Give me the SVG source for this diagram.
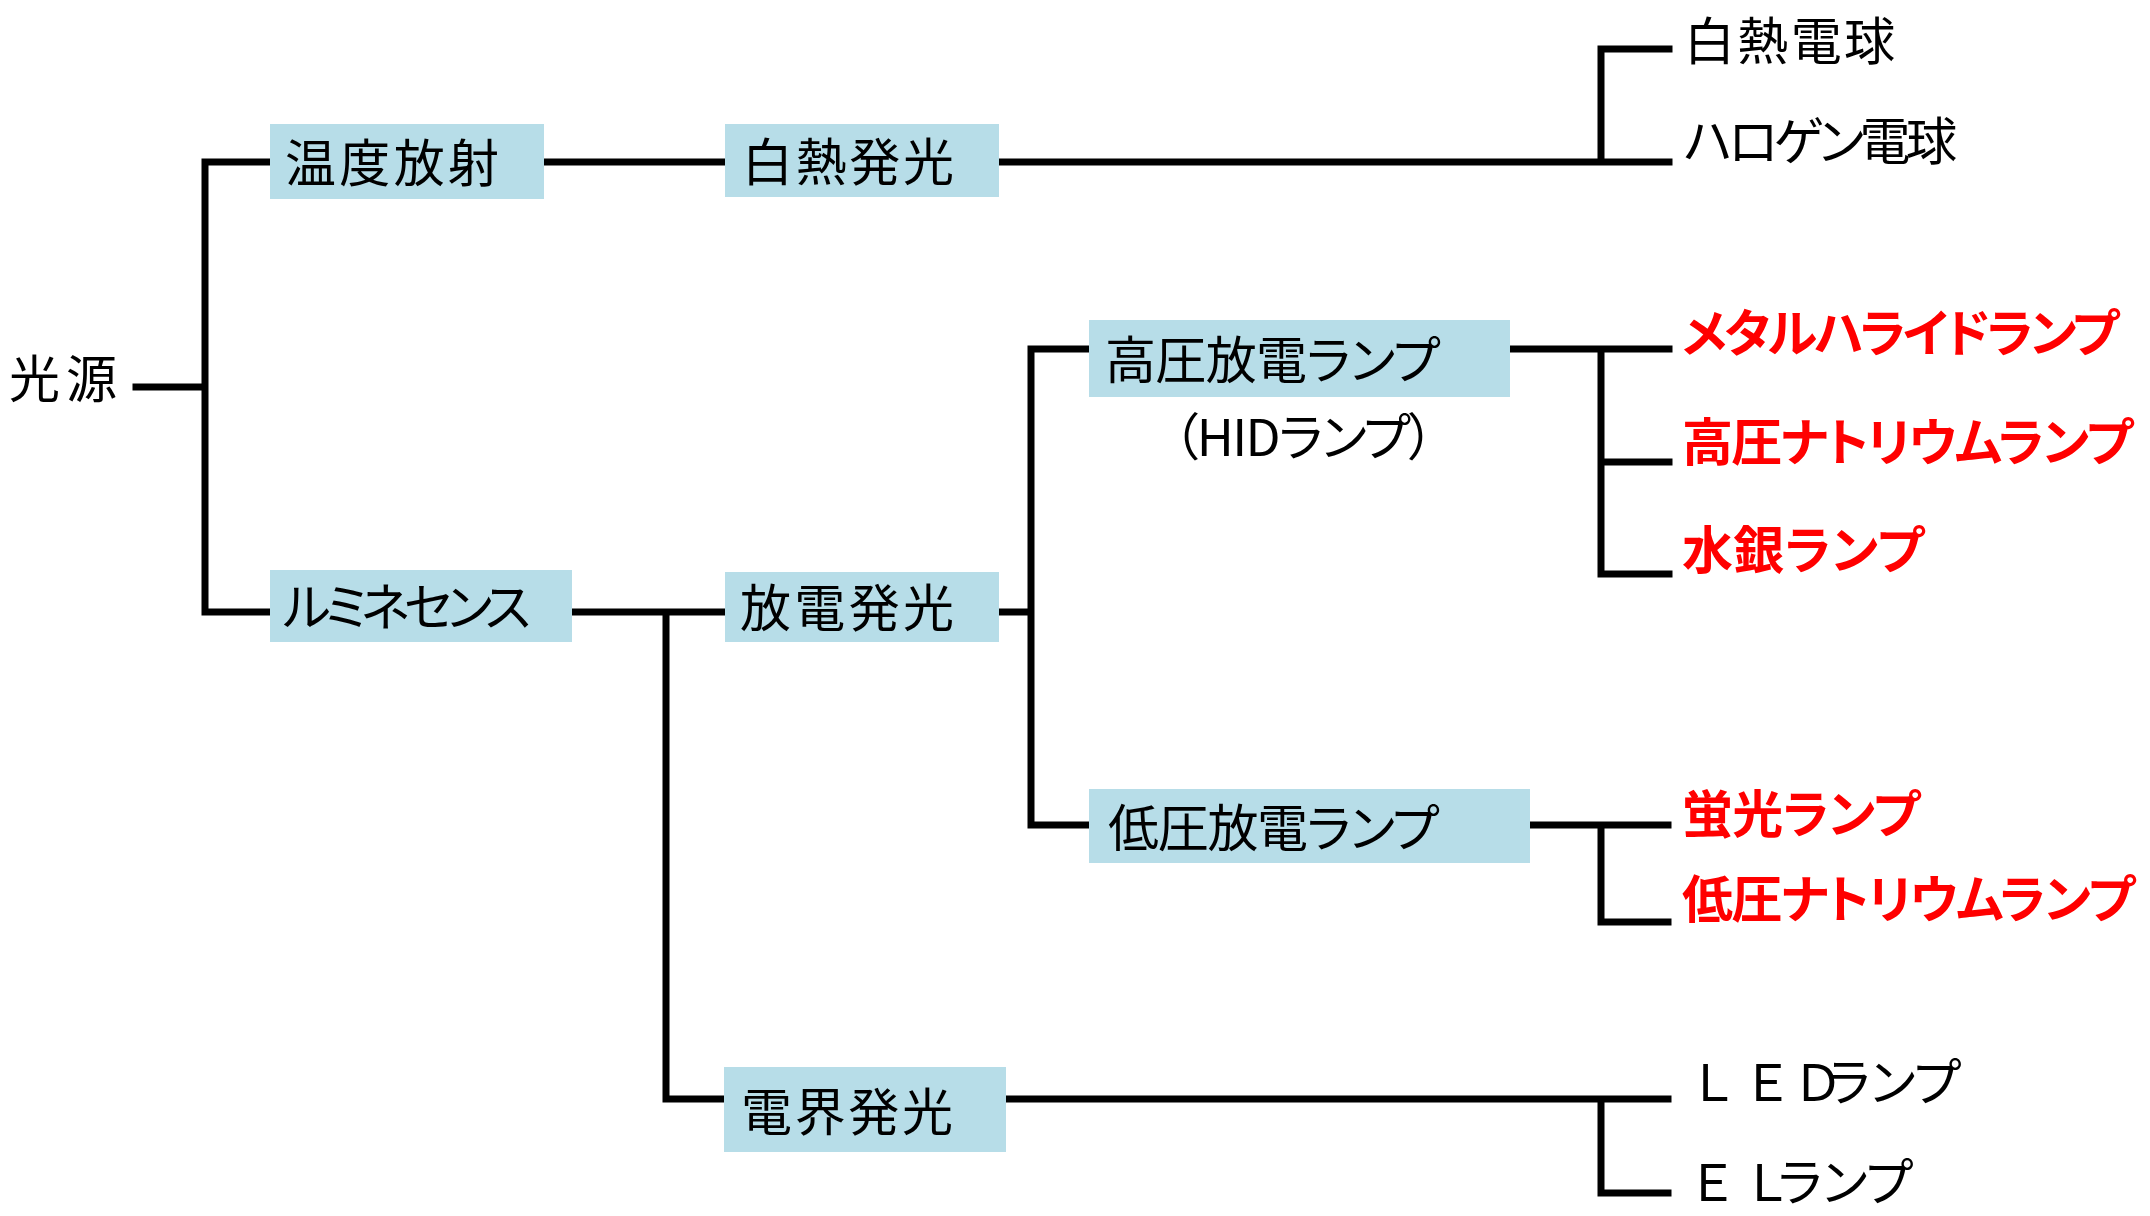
<svg xmlns="http://www.w3.org/2000/svg" width="2150" height="1216" viewBox="0 0 2150 1216">
<style>
text{font-family:"Noto Sans CJK JP","Noto Sans",sans-serif;font-size:51px;fill:#000;font-feature-settings:"palt" 1;}
.red{fill:#FF0000;font-weight:bold;}
.box{fill:#B7DDE8;}
.ln{stroke:#000;stroke-width:7;fill:none;stroke-linecap:square;stroke-linejoin:miter;}
</style>
<rect width="2150" height="1216" fill="#fff"/>
<g id="connectors" class="ln">
<path d="M136,387H205M205,162V612M205,162H270M205,612H270"/>
<path d="M544,162H725M999,162H1669M1601,49V162M1601,49H1669"/>
<path d="M572,612H725M666,612V1099H724"/>
<path d="M999,612H1031M1031,349V825M1031,349H1089M1031,825H1089"/>
<path d="M1510,349H1669M1601,349V574H1669M1601,462H1669"/>
<path d="M1530,825H1668M1601,825V922H1668"/>
<path d="M1006,1099H1668M1601,1099V1193H1668"/>
</g>
<g id="n-kougen"><text x="9" y="398" textLength="108">光源</text></g>
<g id="n-ondo"><rect class="box" x="270" y="124" width="274" height="75"/><text x="285" y="182" textLength="214">温度放射</text></g>
<g id="n-lumi"><rect class="box" x="270" y="570" width="302" height="72"/><text x="283" y="626" textLength="248">ルミネセンス</text></g>
<g id="n-hakunetsu"><rect class="box" x="725" y="124" width="274" height="73"/><text x="742" y="181" textLength="212">白熱発光</text></g>
<g id="n-houden"><rect class="box" x="725" y="572" width="274" height="70"/><text x="740" y="627" textLength="214">放電発光</text></g>
<g id="n-denkai"><rect class="box" x="724" y="1067" width="282" height="85"/><text x="741" y="1131" textLength="212">電界発光</text></g>
<g id="n-kouatsu"><rect class="box" x="1089" y="320" width="421" height="77"/><text x="1105" y="379" textLength="335">高圧放電ランプ</text><text x="1173" y="456" textLength="261">（HIDランプ）</text></g>
<g id="n-teiatsu"><rect class="box" x="1089" y="789" width="441" height="74"/><text x="1108" y="847" textLength="331">低圧放電ランプ</text></g>
<g id="n-hakunetsu-denkyu"><text x="1684" y="60" textLength="211">白熱電球</text></g>
<g id="n-halogen"><text x="1684" y="160" textLength="273">ハロゲン電球</text></g>
<g id="n-metal"><text class="red" x="1682" y="352" textLength="437">メタルハライドランプ</text></g>
<g id="n-hps"><text class="red" x="1682" y="461" textLength="451">高圧ナトリウムランプ</text></g>
<g id="n-mercury"><text class="red" x="1682" y="569" textLength="242">水銀ランプ</text></g>
<g id="n-fluor"><text class="red" x="1682" y="833" textLength="238">蛍光ランプ</text></g>
<g id="n-lps"><text class="red" x="1682" y="918" textLength="453">低圧ナトリウムランプ</text></g>
<g id="n-led"><text x="1696 1748 1796 1826" y="1101">ＬＥＤランプ</text></g>
<g id="n-el"><text x="1693 1750 1778" y="1201">ＥＬランプ</text></g>
</svg>
